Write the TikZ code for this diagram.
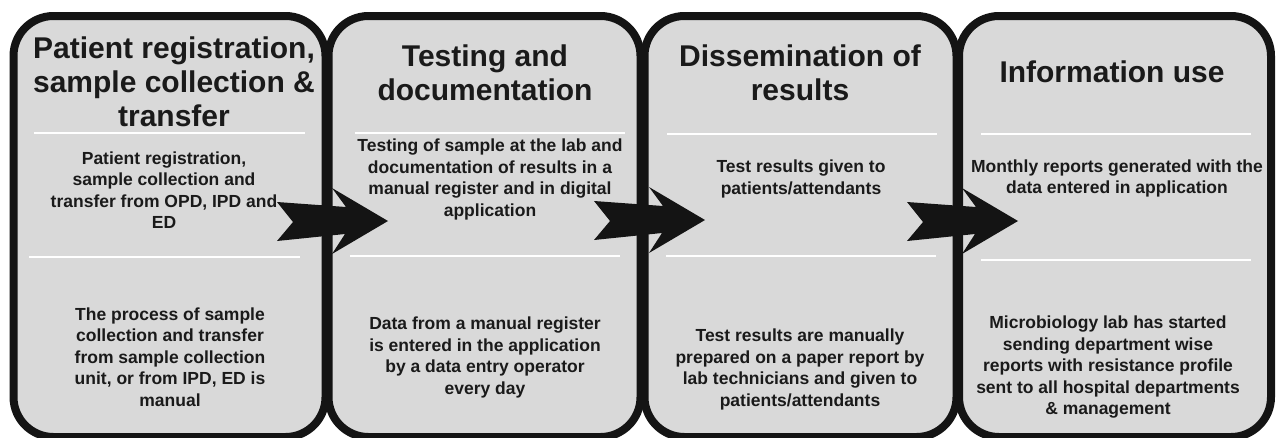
\documentclass[tikz,border=0pt]{standalone}
\usepackage{fontspec}
\setmainfont{Liberation Sans}
\definecolor{boxfill}{HTML}{D9D9D9}
\definecolor{boxline}{HTML}{141414}
\definecolor{txt}{HTML}{1A1A1A}
\tikzset{
  stage/.style={draw=boxline, fill=boxfill, line width=8pt, rounded corners=40pt,
    minimum width=312pt, minimum height=421pt, inner sep=0pt},
  sepline/.style={draw=white, line width=2.5pt},
  titletext/.style={font=\fontsize{30}{34}\selectfont\bfseries, align=center, text=txt, inner sep=0pt},
  bodytext/.style={font=\fontsize{17.5}{21.5}\selectfont\bfseries, align=center, text=txt, inner sep=0pt},
  chevron/.pic={\fill[boxline] (-16,-20) -- (53,-15) -- (39,-34) -- (95,-1) -- (39,32) -- (52,12) -- (-16,19) -- (0,0) -- cycle;}
}
\begin{document}
\begin{tikzpicture}[x=1pt,y=-1pt]
\useasboundingbox (0,0) rectangle (1276,437);
% boxes
\node[stage] (b1) at (169.5,226.5) {};
\node[stage] (b2) at (484.5,226.5) {};
\node[stage] (b3) at (800.5,226.5) {};
\node[stage] (b4) at (1115,226.5) {};
% separators
\draw[sepline] (34,133) -- (305,133);
\draw[sepline] (29,257) -- (300,257);
\draw[sepline] (355,133) -- (625,133);
\draw[sepline] (350,256) -- (620,256);
\draw[sepline] (667,134) -- (937,134);
\draw[sepline] (666,256) -- (936,256);
\draw[sepline] (981,134) -- (1251,134);
\draw[sepline] (981,260) -- (1251,260);
% titles
\node[titletext] (t1) at (174,82) {Patient registration,\\sample collection \&\\transfer};
\node[titletext] (t2) at (485,72.5) {Testing and\\documentation};
\node[titletext] (t3) at (800,72.5) {Dissemination of\\results};
\node[titletext] (t4) at (1112,72) {Information use};
% body texts
\node[bodytext] (u1) at (164,190) {Patient registration,\\sample collection and\\transfer from OPD, IPD and\\ED};
\node[bodytext] (l1) at (170,357) {The process of sample\\collection and transfer\\from sample collection\\unit, or from IPD, ED is\\manual};
\node[bodytext] (u2) at (490,179.5) {Testing of sample at the lab and\\documentation of results in a\\manual register and in digital\\application};
\node[bodytext] (l2) at (485,357.5) {Data from a manual register\\is entered in the application\\by a data entry operator\\every day};
\node[bodytext] (u3) at (801,179) {Test results given to\\patients/attendants};
\node[bodytext] (l3) at (800,369.5) {Test results are manually\\prepared on a paper report by\\lab technicians and given to\\patients/attendants};
\node[bodytext] (u4) at (1117,178.5) {Monthly reports generated with the\\data entered in application};
\node[bodytext] (l4) at (1108,367.5) {Microbiology lab has started\\sending department wise\\reports with resistance profile\\sent to all hospital departments\\\& management};
% arrows
\coordinate (a1) at (293,222);
\coordinate (a2) at (610,221);
\coordinate (a3) at (923,222);
\pic at (a1) {chevron};
\pic at (a2) {chevron};
\pic at (a3) {chevron};
\end{tikzpicture}
\end{document}
